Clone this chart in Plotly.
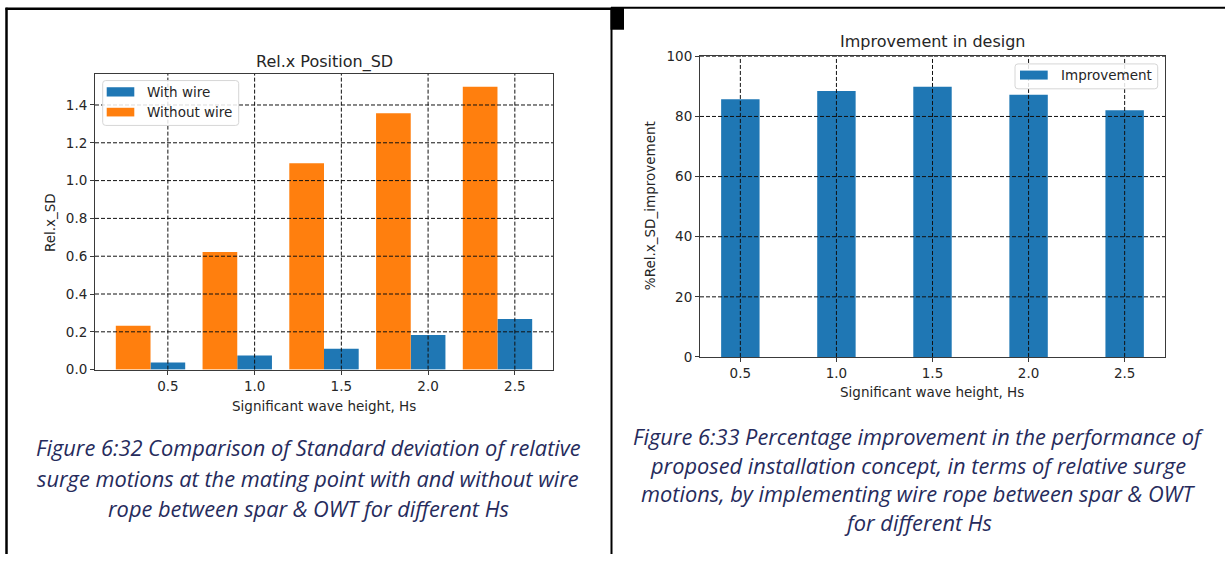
import plotly.graph_objects as go

# ---- data -------------------------------------------------------------
hs = [0.5, 1.0, 1.5, 2.0, 2.5]
with_wire = [0.038, 0.075, 0.110, 0.183, 0.268]
without_wire = [0.232, 0.622, 1.092, 1.356, 1.497]
improvement = [85.7, 88.5, 89.9, 87.2, 82.1]

x_ticks = [0.5, 1.0, 1.5, 2.0, 2.5]
y_ticks_left = [0.0, 0.2, 0.4, 0.6, 0.8, 1.0, 1.2, 1.4]
y_ticks_right = [0, 20, 40, 60, 80, 100]

left_title = "Rel.x Position_SD"
right_title = "Improvement in design"
x_label = "Significant wave height, Hs"
left_ylabel = "Rel.x_SD"
right_ylabel = "%Rel.x_SD_improvement"
left_legend = ["With wire", "Without wire"]
right_legend = ["Improvement"]

caption_left = [
    "Figure 6:32 Comparison of Standard deviation of relative",
    "surge motions at the mating point with and without wire",
    "rope between spar & OWT for different Hs",
]
caption_right = [
    "Figure 6:33 Percentage improvement in the performance of",
    "proposed installation concept, in terms of relative surge",
    "motions, by implementing wire rope between spar & OWT",
    "for different Hs",
]

# ---- styling ----------------------------------------------------------
W, H = 1225, 562
BLUE = "#1f77b4"
ORANGE = "#ff7f0e"
TXT = "#262626"
AXC = "#3a3a3a"
CAP = "#262b5c"
MPL_FONT = "DejaVu Sans"
CAP_FONT = "Open Sans"
CAP_SIZE = 21.8
BAR_W = 0.2

# vertical layout grid: page rows are laid out on a slightly taller grid
Y_OFF, Y_SCALE = 7.2, 0.9747


def px(xp):
    return xp / W


def py(yp):
    return 1 - ((yp - Y_OFF) / Y_SCALE) / H


fig = go.Figure()

# left chart: grouped bars (without wire shifted one bar width left)
fig.add_trace(go.Bar(x=hs, y=with_wire, width=BAR_W, marker_color=BLUE,
                     marker_line_width=0, name=left_legend[0],
                     xaxis="x", yaxis="y", showlegend=False))
fig.add_trace(go.Bar(x=[h - BAR_W for h in hs], y=without_wire, width=BAR_W,
                     marker_color=ORANGE, marker_line_width=0,
                     name=left_legend[1], xaxis="x", yaxis="y",
                     showlegend=False))
# right chart
fig.add_trace(go.Bar(x=hs, y=improvement, width=BAR_W, marker_color=BLUE,
                     marker_line_width=0, name=right_legend[0],
                     xaxis="x2", yaxis="y2", showlegend=False))

axis_common = dict(showline=True, mirror=True, linecolor=AXC, linewidth=1,
                   ticks="outside", ticklen=4, tickcolor=AXC,
                   showgrid=False, zeroline=False,
                   tickfont=dict(family=MPL_FONT, size=13.5, color=TXT))

fig.update_layout(
    width=W, height=H,
    margin=dict(l=0, r=0, t=0, b=0),
    paper_bgcolor="white", plot_bgcolor="white",
    barmode="overlay",
    xaxis=dict(domain=[px(95), px(553)], range=[0.08, 2.72],
               tickvals=x_ticks, tickformat=".1f", anchor="y", **axis_common),
    yaxis=dict(domain=[py(370), py(73.3)], range=[0, 1.5645],
               tickvals=y_ticks_left, tickformat=".1f", anchor="x",
               **axis_common),
    xaxis2=dict(domain=[px(700), px(1165)], range=[0.29, 2.71],
                tickvals=x_ticks, tickformat=".1f", anchor="y2",
                **axis_common),
    yaxis2=dict(domain=[py(357.3), py(55.7)], range=[0, 100],
                tickvals=y_ticks_right, anchor="x2", **axis_common),
)

shapes = []
annotations = []

# dashed grid drawn above the bars
GRID = dict(color="#111111", width=1, dash="4px,2px")
for xa, ya, yt in (("x", "y", y_ticks_left), ("x2", "y2", y_ticks_right)):
    for t in x_ticks:
        shapes.append(dict(type="line", xref=xa, yref=ya + " domain",
                           x0=t, x1=t, y0=0, y1=1, line=GRID, layer="above"))
    for t in yt[1:]:
        shapes.append(dict(type="line", xref=xa + " domain", yref=ya,
                           x0=0, x1=1, y0=t, y1=t, line=GRID, layer="above"))


# titles and axis labels
def label(text, x, y, size=13.5, angle=0):
    annotations.append(dict(text=text, x=px(x), y=py(y), xref="paper",
                            yref="paper", showarrow=False, textangle=angle,
                            xanchor="center", yanchor="middle",
                            font=dict(family=MPL_FONT, size=size, color=TXT)))


label(left_title, 324, 61, size=16)
label(right_title, 932, 41, size=16)
label(x_label, 324, 406)
label(x_label, 932, 392)
label(left_ylabel, 50, 222, angle=-90)
label(right_ylabel, 650, 206, angle=-90)


# legends (matplotlib style boxes with rounded corners)
def rounded_rect(x0, y0, x1, y1, r=3):
    X0, X1 = px(x0), px(x1)
    Y0, Y1 = py(y1), py(y0)
    rx, ry = r / W, r / H
    return (f"M {X0 + rx},{Y0} L {X1 - rx},{Y0} Q {X1},{Y0} {X1},{Y0 + ry} "
            f"L {X1},{Y1 - ry} Q {X1},{Y1} {X1 - rx},{Y1} "
            f"L {X0 + rx},{Y1} Q {X0},{Y1} {X0},{Y1 - ry} "
            f"L {X0},{Y0 + ry} Q {X0},{Y0} {X0 + rx},{Y0} Z")


def legend_box(x0, y0, x1, y1, items):
    shapes.append(dict(type="path", xref="paper", yref="paper",
                       path=rounded_rect(x0, y0, x1, y1),
                       line=dict(color="#d6d6d6", width=1),
                       fillcolor="rgba(255,255,255,0.85)", layer="above"))
    for (hx0, hy0, hx1, hy1, color, text) in items:
        shapes.append(dict(type="rect", xref="paper", yref="paper",
                           x0=px(hx0), x1=px(hx1), y0=py(hy1), y1=py(hy0),
                           line=dict(width=0), fillcolor=color,
                           layer="above"))
        annotations.append(dict(text=text, x=px(hx1 + 11),
                                y=py((hy0 + hy1) / 2),
                                xref="paper", yref="paper", showarrow=False,
                                xanchor="left", yanchor="middle",
                                font=dict(family=MPL_FONT, size=13.5,
                                          color=TXT)))


legend_box(102.7, 80, 238.7, 125,
           [(106.7, 86.7, 134.3, 96, BLUE, left_legend[0]),
            (106.7, 107.3, 134.3, 116, ORANGE, left_legend[1])])
legend_box(1015, 63.3, 1157.7, 88.3,
           [(1020, 70, 1047.7, 79, BLUE, right_legend[0])])


# captions, one annotation per line
def caption(lines, cx, rows):
    for line, yy in zip(lines, rows):
        annotations.append(dict(text=line, x=px(cx), y=py(yy),
                                xref="paper", yref="paper", showarrow=False,
                                xanchor="center", yanchor="middle",
                                font=dict(family=CAP_FONT, size=CAP_SIZE,
                                          color=CAP, style="italic")))


caption(caption_left, 308, [448, 479, 509])
caption(caption_right, 918, [437, 466, 494.5, 523])

# table cell borders
BORDER = dict(color="black", width=2.5)
shapes += [
    dict(type="line", xref="paper", yref="paper", x0=px(6.5), x1=px(6.5),
         y0=py(7), y1=0, line=BORDER),
    dict(type="line", xref="paper", yref="paper", x0=px(5.5), x1=px(611),
         y0=py(8), y1=py(8), line=BORDER),
    dict(type="line", xref="paper", yref="paper", x0=px(611.5), x1=px(611.5),
         y0=py(7), y1=0, line=dict(color="black", width=2)),
    dict(type="line", xref="paper", yref="paper", x0=px(611), x1=1,
         y0=py(7), y1=py(7), line=dict(color="black", width=2)),
    dict(type="rect", xref="paper", yref="paper", x0=px(610.5), x1=px(624),
         y0=py(29), y1=py(7), line=dict(width=0), fillcolor="black"),
]

fig.update_layout(shapes=shapes, annotations=annotations)
fig.write_html("out.html")
